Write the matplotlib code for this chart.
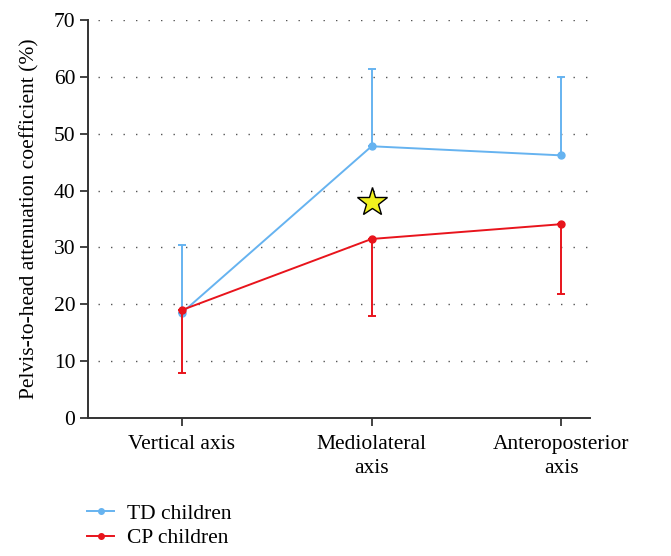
import matplotlib
matplotlib.use("Agg")
import matplotlib.pyplot as plt
from matplotlib.lines import Line2D
import numpy as np

categories = ["Vertical axis", "Mediolateral\naxis", "Anteroposterior\naxis"]
td_mean = [18.5, 47.8, 46.2]
td_upper = [30.5, 61.3, 60.0]
cp_mean = [19.0, 31.5, 34.1]
cp_lower = [8.0, 18.0, 21.8]
star_pos = (1, 38.0)
yticks = [0, 10, 20, 30, 40, 50, 60, 70]

plt.rcParams['font.family'] = ['Liberation Serif', 'DejaVu Serif']

fig = plt.figure(figsize=(6.71, 5.56), dpi=100)
ax = fig.add_axes([0.131, 0.248, 0.748, 0.716])

x = np.arange(len(categories))
td_color = "#66b3f0"
cp_color = "#e8141c"

td_err = np.array(td_upper) - np.array(td_mean)
cp_err = np.array(cp_mean) - np.array(cp_lower)

ax.errorbar(x, td_mean, yerr=[np.zeros(3), td_err], color=td_color, lw=1.4,
            marker='o', ms=5, capsize=3, capthick=1.4, elinewidth=1.4, zorder=3)
ax.errorbar(x, cp_mean, yerr=[cp_err, np.zeros(3)], color=cp_color, lw=1.4,
            marker='o', ms=5, capsize=3, capthick=1.4, elinewidth=1.4, zorder=4)

ax.plot([star_pos[0]], [star_pos[1]], marker='*', ms=22, markerfacecolor="#f0f01e",
        markeredgecolor="black", markeredgewidth=1.0, zorder=5, linestyle='none')

ax.set_xlim(-0.495, 2.15)
ax.set_ylim(0, 70)
ax.set_yticks(yticks)
ax.set_xticks(x)
ax.set_xticklabels(categories, fontsize=15.5, linespacing=1.35)
ax.tick_params(axis='y', labelsize=15.5, direction='out', length=6, width=1.2, colors='#222222', pad=3)
ax.tick_params(axis='x', direction='out', length=6, width=1.2, pad=6, colors='#222222')
for lbl in ax.get_xticklabels() + ax.get_yticklabels():
    lbl.set_color('black')

for yv in yticks[1:]:
    ax.plot([-0.44, 2.15], [yv, yv], color='#555555', lw=1.0, ls=(0, (1, 8)), zorder=1)

for s in ['top', 'right']:
    ax.spines[s].set_visible(False)
for s in ['left', 'bottom']:
    ax.spines[s].set_linewidth(1.4)
    ax.spines[s].set_color('#333333')

ax.set_ylabel("Pelvis-to-head attenuation coefficient (%)", fontsize=15.5, labelpad=10)

handles = [Line2D([], [], color=td_color, lw=1.4, marker='o', ms=4),
           Line2D([], [], color=cp_color, lw=1.4, marker='o', ms=4)]
labels = ["TD children", "CP children"]
fig.legend(handles, labels, loc='upper left', bbox_to_anchor=(0.13, 0.094),
           frameon=False, fontsize=15.5, handlelength=1.26, handletextpad=0.6,
           labelspacing=0.2, borderaxespad=0, borderpad=0)

fig.savefig("out.png", dpi=100)
